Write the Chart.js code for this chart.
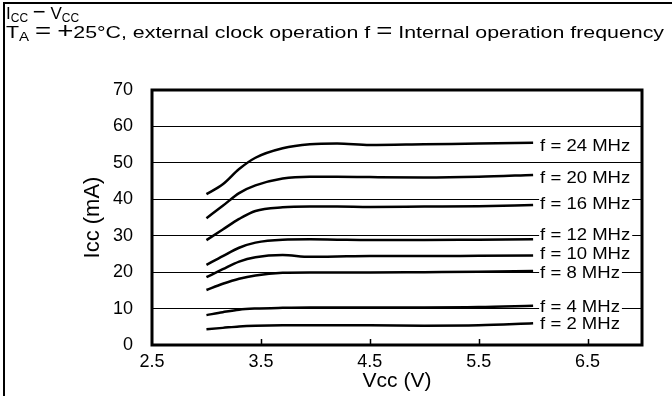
<!DOCTYPE html>
<html>
<head>
<meta charset="utf-8">
<script src="https://cdn.jsdelivr.net/npm/chart.js@4/dist/chart.umd.min.js"></script>
<style>
  html, body { margin: 0; padding: 0; background: #fff; }
  #wrap { position: relative; width: 672px; height: 396px; overflow: hidden; }
  #chart { position: absolute; left: 0; top: 0; }
  #frame { position: absolute; left: 3px; top: 2px; width: 680px; height: 400px;
           border-left: 2px solid #000; border-top: 2px solid #000; }
  .cap { position: absolute; left: 6px; font-family: "Liberation Sans", Arial, sans-serif;
         font-size: 17px; color: #000; white-space: nowrap; line-height: 1;
         transform-origin: 0 0; }
  .cap sub { font-size: 12px; vertical-align: -3px; }
  .cap .sym { font-size: 22px; line-height: 0; }
</style>
</head>
<body>
<div id="wrap">
  <canvas id="chart" width="672" height="396"></canvas>
  <div id="frame"></div>
  <div class="cap" id="t1" style="top:5px">I<sub>CC</sub> <span class="sym">−</span> V<sub>CC</sub></div>
  <div class="cap" id="t2" style="top:24px">T<sub>A</sub> <span class="sym">=</span> <span class="sym">+</span>25°C, external clock operation f <span class="sym">=</span> Internal operation frequency</div>
</div>
<script>
// Vcc (V) sample points
const voltage = [3.0, 3.15, 3.3, 3.45, 3.7, 3.95, 4.2, 4.5, 5.0, 5.5, 6.0];

// Icc (mA) for each operating frequency
const icc24 = [41.4, 44.1, 48.3, 51.4, 54.0, 55.1, 55.3, 54.9, 55.1, 55.3, 55.5];
const icc20 = [34.8, 38.2, 41.7, 43.8, 45.7, 46.2, 46.2, 46.1, 46.0, 46.2, 46.7];
const icc16 = [28.8, 31.7, 34.6, 36.8, 37.8, 38.0, 38.0, 37.9, 38.0, 38.1, 38.4];
const icc12 = [22.0, 24.4, 26.7, 28.1, 28.9, 29.0, 28.9, 28.8, 28.8, 28.9, 29.0];
const icc10 = [18.6, 20.8, 22.9, 24.1, 24.7, 24.2, 24.3, 24.4, 24.4, 24.5, 24.6];
const icc8  = [15.1, 16.8, 18.2, 19.1, 19.8, 19.9, 19.9, 19.9, 20.0, 20.1, 20.3];
const icc4  = [8.2, 9.0, 9.7, 10.0, 10.2, 10.3, 10.3, 10.3, 10.3, 10.4, 10.8];
const icc2  = [4.3, 4.7, 5.1, 5.3, 5.4, 5.4, 5.4, 5.4, 5.3, 5.4, 5.95];

const seriesLabels = ['f = 24 MHz', 'f = 20 MHz', 'f = 16 MHz', 'f = 12 MHz',
                      'f = 10 MHz', 'f = 8 MHz', 'f = 4 MHz', 'f = 2 MHz'];
const seriesValues = [icc24, icc20, icc16, icc12, icc10, icc8, icc4, icc2];

const xTicks = [2.5, 3.5, 4.5, 5.5, 6.5];
const yTicks = [0, 10, 20, 30, 40, 50, 60, 70];

const FONT = '"Liberation Sans", Arial, sans-serif';

// label vertical nudges (px) so the texts don't collide
const labelShift = [2, 2, -2, -5, -2, 1, 1, 0];

// the original caption is set in a wide face, stretch ours to the same width
function stretch(id, target) {
    const el = document.getElementById(id);
    el.style.transform = 'scaleX(' + (target / el.offsetWidth) + ')';
}
stretch('t2', 658);

const datasets = seriesValues.map((vals, i) => ({
    label: seriesLabels[i],
    data: vals.map((v, j) => ({ x: voltage[j], y: v })),
    borderColor: '#000',
    borderWidth: 2.5,
    pointRadius: 0,
    cubicInterpolationMode: 'monotone',
    fill: false
}));

// frame, inner x ticks and the curve labels
const decorations = {
    id: 'decorations',
    afterDatasetsDraw(chart) {
        const ctx = chart.ctx;
        const a = chart.chartArea;
        const xs = chart.scales.x;
        ctx.save();
        ctx.strokeStyle = '#000';
        ctx.lineWidth = 1.5;
        xTicks.slice(1).forEach(t => {
            const px = Math.round(xs.getPixelForValue(t)) + 0.5;
            ctx.beginPath();
            ctx.moveTo(px, a.bottom);
            ctx.lineTo(px, a.bottom - 6);
            ctx.stroke();
        });

        ctx.font = '17px ' + FONT;
        ctx.textBaseline = 'middle';
        ctx.textAlign = 'left';
        chart.data.datasets.forEach((ds, i) => {
            const meta = chart.getDatasetMeta(i);
            const last = meta.data[meta.data.length - 1];
            const tx = last.x + 7;
            const ty = last.y + labelShift[i];
            const w = ctx.measureText(ds.label).width * 1.09;
            ctx.fillStyle = '#fff';
            ctx.fillRect(tx - 1, ty - 8, w + 3, 16);
            ctx.fillStyle = '#000';
            ctx.save();
            ctx.translate(tx, ty + 1);
            ctx.scale(1.09, 1);
            ctx.fillText(ds.label, 0, 0);
            ctx.restore();
        });

        ctx.lineWidth = 3;
        ctx.strokeRect(a.left, a.top, a.right - a.left, a.bottom - a.top);
        ctx.restore();
    }
};

new Chart(document.getElementById('chart'), {
    type: 'line',
    data: { datasets },
    options: {
        responsive: false,
        animation: false,
        layout: { padding: { left: 80, top: 90, right: 30, bottom: 0 } },
        plugins: { legend: { display: false }, tooltip: { enabled: false } },
        scales: {
            x: {
                type: 'linear',
                min: 2.5,
                max: 7.0,
                afterBuildTicks: s => { s.ticks = xTicks.map(v => ({ value: v })); },
                afterFit: s => { s.height = 51; },
                grid: { display: false, drawTicks: false },
                border: { display: false },
                ticks: { color: '#000', padding: 6, font: { family: FONT, size: 18 },
                         callback: v => v.toFixed(1), maxRotation: 0 },
                title: { display: true, text: 'Vcc (V)', color: '#000',
                         font: { family: FONT, size: 21 }, padding: { top: 0, bottom: 2 } }
            },
            y: {
                min: 0,
                max: 70,
                afterBuildTicks: s => { s.ticks = yTicks.map(v => ({ value: v })); },
                afterFit: s => { s.width = 72; },
                grid: { color: '#000', lineWidth: 1, drawTicks: false },
                border: { display: false },
                ticks: { color: '#000', padding: 19, font: { family: FONT, size: 18 } },
                title: { display: true, text: 'Icc (mA)', color: '#000',
                         font: { family: FONT, size: 22 }, padding: { top: 0, bottom: 0 } }
            }
        }
    },
    plugins: [decorations]
});
</script>
</body>
</html>
